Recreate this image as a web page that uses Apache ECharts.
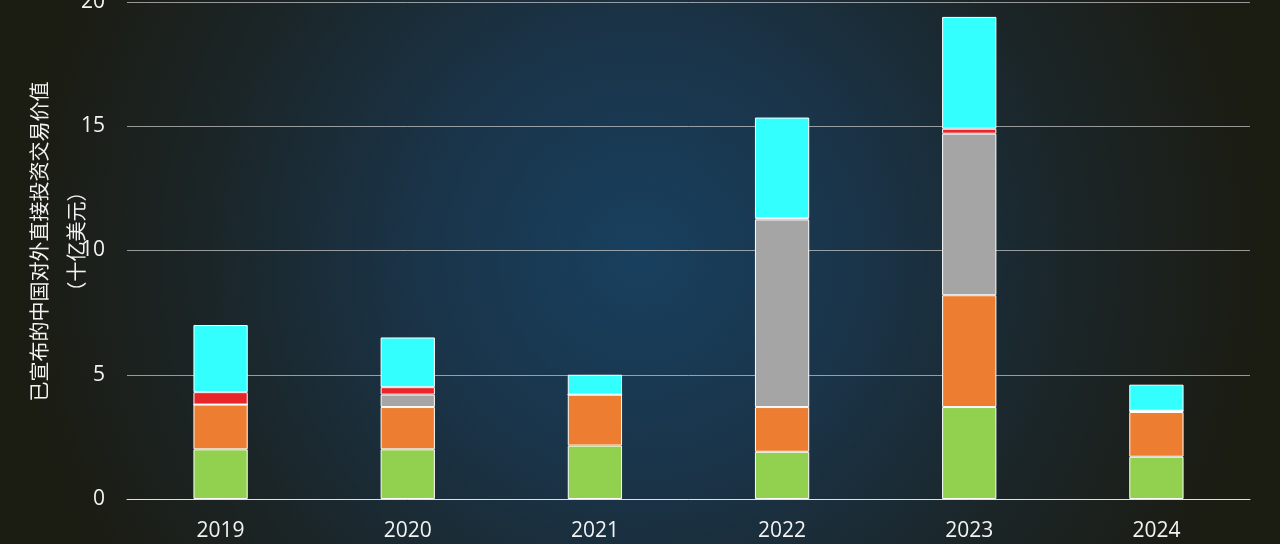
<!DOCTYPE html>
<html><head><meta charset="utf-8">
<script src="https://cdn.jsdelivr.net/npm/echarts@6/dist/echarts.min.js"></script>
<style>html,body{margin:0;padding:0;background:#1b1c12}#c{width:1280px;height:544px}</style>
</head><body><div id="c"></div>
<script>
const years = ['2019','2020','2021','2022','2023','2024'];
const seriesNames = ['绿色','橙色','灰色','红色','青色'];
const greenVals  = [2.0, 2.0, 2.15, 1.9, 3.7, 1.7];
const orangeVals = [1.8, 1.7, 2.05, 1.8, 4.5, 1.8];
const grayVals   = [0,   0.5, 0,    7.55, 6.5, 0.05];
const redVals    = [0.5, 0.3, 0,    0.05, 0.2, 0];
const cyanVals   = [2.7, 2.0, 0.8,  4.05, 4.5, 1.05];
const yTicks = [0, 5, 10, 15, 20];
const colors = ['#92d050','#ed7d31','#a5a5a5','#e8262a','#33ffff'];
const allVals = [greenVals, orangeVals, grayVals, redVals, cyanVals];

const chart = echarts.init(document.getElementById('c'));
chart.setOption({
  backgroundColor: {
    type: 'radial', x: 0.5, y: 0.47, r: 1.15,
    colorStops: [
      {offset: 0, color: '#18405f'},
      {offset: 0.35, color: '#1a3449'},
      {offset: 0.7, color: '#1b2527'},
      {offset: 1, color: '#1b1c12'}
    ]
  },
  animation: false,
  grid: {left: 127, right: 30, top: 2, bottom: 45, outerBoundsMode: 'none', containLabel: false},
  xAxis: {
    type: 'category', data: years,
    axisLine: {lineStyle: {color: '#e0e0e0', width: 1}},
    axisTick: {show: false},
    axisLabel: {color: '#f2f2f2', fontSize: 21, margin: 22, fontFamily: 'Open Sans, Noto Sans, sans-serif'}
  },
  yAxis: {
    type: 'value', min: yTicks[0], max: yTicks[yTicks.length-1], interval: 5,
    name: '已宣布的中国对外直接投资交易价值\n（十亿美元）',
    nameLocation: 'middle', nameGap: 32, nameMoveOverlap: false,
    nameTextStyle: {color: '#f2f2f2', fontSize: 20, lineHeight: 37, fontFamily: 'Noto Sans CJK SC, sans-serif', padding: [0, 0, 0, 18]},
    axisLine: {show: false}, axisTick: {show: false},
    splitLine: {lineStyle: {color: 'rgba(205,205,205,0.7)', width: 1}},
    axisLabel: {color: '#f2f2f2', fontSize: 21, margin: 22, fontFamily: 'Open Sans, Noto Sans, sans-serif'}
  },
  series: allVals.map((vals, i) => ({
    name: seriesNames[i], type: 'bar', stack: 'total', data: vals,
    barWidth: '29%',
    itemStyle: {color: colors[i], borderColor: '#ffffff', borderWidth: 1}
  }))
});
</script></body></html>
